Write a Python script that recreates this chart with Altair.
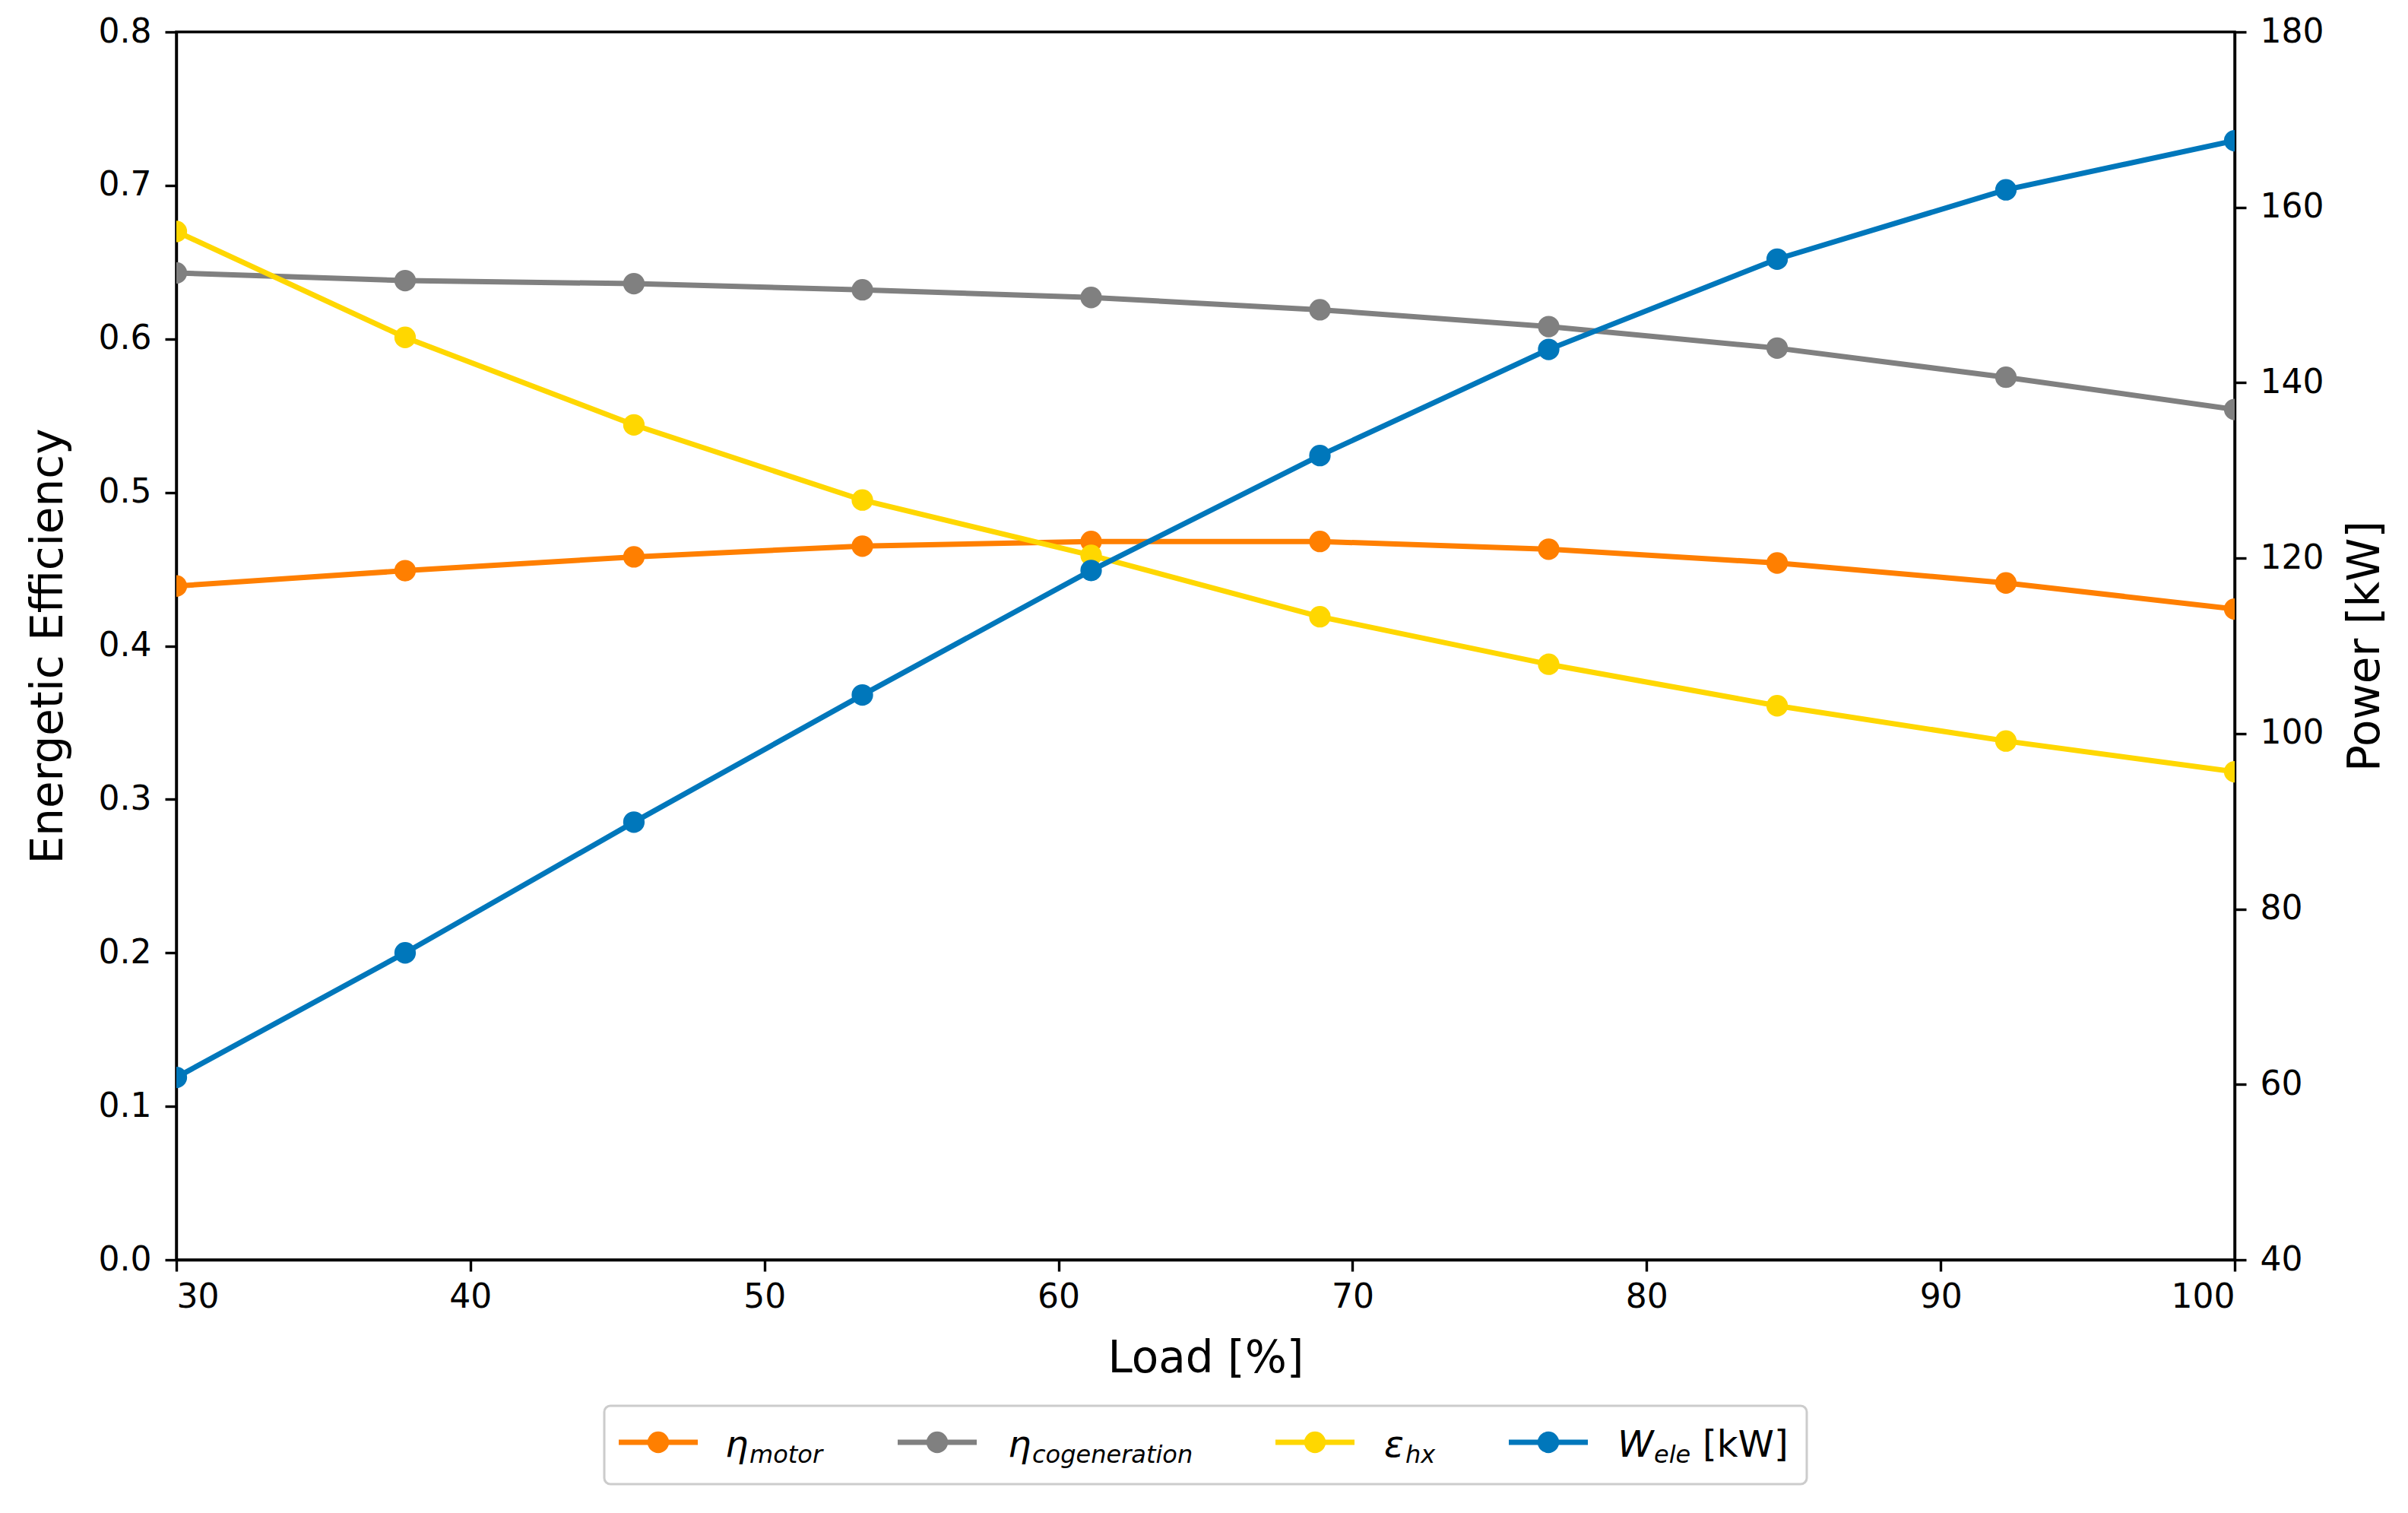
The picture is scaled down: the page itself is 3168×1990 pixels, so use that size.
import altair as alt
import pandas as pd

# ---------------- data ----------------
load = [30, 37.78, 45.56, 53.33, 61.11, 68.89, 76.67, 84.44, 92.22, 100]
eta_motor = [0.439, 0.449, 0.458, 0.465, 0.468, 0.468, 0.463, 0.454, 0.441, 0.424]
eta_cogeneration = [0.643, 0.638, 0.636, 0.632, 0.627, 0.619, 0.608, 0.594, 0.575, 0.554]
eps_hx = [0.670, 0.601, 0.544, 0.495, 0.459, 0.419, 0.388, 0.361, 0.338, 0.318]
w_ele = [60.8, 75.0, 89.9, 104.4, 118.6, 131.7, 143.8, 154.1, 162.0, 167.6]

series_names = ["eta_motor", "eta_cogeneration", "eps_hx"]
series_colors = ["#FF7F00", "#808080", "#FFD700"]
w_color = "#0077BB"

x_ticks = [30, 40, 50, 60, 70, 80, 90, 100]
y_left_ticks = [0.0, 0.1, 0.2, 0.3, 0.4, 0.5, 0.6, 0.7, 0.8]
y_right_ticks = [40, 60, 80, 100, 120, 140, 160, 180]

legend_syms = ["η", "η", "ε", "W"]
legend_subs = ["motor", "cogeneration", "hx", "ele"]
legend_units = ["", "", "", "[kW]"]
legend_colors = series_colors + [w_color]

# ---------------- tables ----------------
rows = []
for name, vals in zip(series_names, [eta_motor, eta_cogeneration, eps_hx]):
    for l, v in zip(load, vals):
        rows.append({"series": name, "load": l, "value": v})
eff_df = pd.DataFrame(rows)
w_df = pd.DataFrame({"load": load, "power": w_ele})

# ---------------- style ----------------
FONT = "DejaVu Sans"
LW = 7
MS = 800
PLOT_W, PLOT_H = 2708, 1615

x_enc = alt.X(
    "load:Q",
    scale=alt.Scale(domain=[30, 100], nice=False, zero=False),
    axis=alt.Axis(values=x_ticks, format="d", title="Load [%]",
                  labelPadding=12, titlePadding=30),
)
yl_enc = alt.Y(
    "value:Q",
    scale=alt.Scale(domain=[0, 0.8], nice=False),
    axis=alt.Axis(values=y_left_ticks, format=".1f", title="Energetic Efficiency",
                  orient="left", labelPadding=18, titlePadding=36),
)
yr_enc = alt.Y(
    "power:Q",
    scale=alt.Scale(domain=[40, 180], nice=False, zero=False),
    axis=alt.Axis(values=y_right_ticks, format="d", title="Power [kW]",
                  orient="right", labelPadding=18, titlePadding=73,
                  titleAngle=270, titleBaseline="alphabetic"),
)


def series_layer(name, color):
    base = alt.Chart(eff_df).transform_filter(alt.datum.series == name)
    line = base.mark_line(color=color, strokeWidth=LW, clip=True).encode(x=x_enc, y=yl_enc)
    pts = base.mark_circle(color=color, size=MS, opacity=1, clip=True).encode(x=x_enc, y=yl_enc)
    return alt.layer(line, pts)


left = alt.layer(*[series_layer(n, c) for n, c in zip(series_names, series_colors)])

w_base = alt.Chart(w_df)
right = alt.layer(
    w_base.mark_line(color=w_color, strokeWidth=LW, clip=True).encode(x=x_enc, y=yr_enc),
    w_base.mark_circle(color=w_color, size=MS, opacity=1, clip=True).encode(x=x_enc, y=yr_enc),
)

# ---------------- custom legend below the plot (math-style labels) ----------------
BOX_X, BOX_Y, BOX_W, BOX_H = 563, 1807, 1582, 103
handle_cx = [71, 438, 935, 1242]
label_x = [159, 531, 1026, 1333]
sym_w = [32, 32, 28, 48]
sub_w = [96, 229, 39, 48]
unit_gap = 16
MAIN_FS, SUB_FS = 48, 32
HANDLE_Y = BOX_Y + 48
MAIN_BASE = BOX_Y + 67
SUB_BASE = BOX_Y + 75
dummy = alt.Data(values=[{"k": 0}])

leg_layers = [
    alt.Chart(dummy).mark_rect(
        fill="white", stroke="#cccccc", strokeWidth=3, cornerRadius=8
    ).encode(
        x=alt.value(BOX_X), x2=alt.value(BOX_X + BOX_W),
        y=alt.value(BOX_Y), y2=alt.value(BOX_Y + BOX_H),
    )
]
for i in range(4):
    c = legend_colors[i]
    hx = BOX_X + handle_cx[i]
    lx = BOX_X + label_x[i]
    leg_layers.append(
        alt.Chart(dummy).mark_rule(color=c, strokeWidth=LW).encode(
            x=alt.value(hx - 52), x2=alt.value(hx + 52), y=alt.value(HANDLE_Y)
        )
    )
    leg_layers.append(
        alt.Chart(dummy).mark_circle(color=c, size=MS, opacity=1).encode(
            x=alt.value(hx), y=alt.value(HANDLE_Y)
        )
    )
    leg_layers.append(
        alt.Chart(dummy).mark_text(
            font=FONT, fontSize=MAIN_FS, fontStyle="italic", align="left",
            baseline="alphabetic", color="black"
        ).encode(x=alt.value(lx), y=alt.value(MAIN_BASE), text=alt.value(legend_syms[i]))
    )
    leg_layers.append(
        alt.Chart(dummy).mark_text(
            font=FONT, fontSize=SUB_FS, fontStyle="italic", align="left",
            baseline="alphabetic", color="black"
        ).encode(x=alt.value(lx + sym_w[i]), y=alt.value(SUB_BASE),
                 text=alt.value(legend_subs[i]))
    )
    if legend_units[i]:
        leg_layers.append(
            alt.Chart(dummy).mark_text(
                font=FONT, fontSize=MAIN_FS, align="left",
                baseline="alphabetic", color="black"
            ).encode(x=alt.value(lx + sym_w[i] + sub_w[i] + unit_gap), y=alt.value(MAIN_BASE),
                     text=alt.value(legend_units[i]))
        )

chart = (
    alt.layer(left, right, *leg_layers)
    .resolve_scale(y="independent")
    .properties(
        width=PLOT_W, height=PLOT_H,
        padding={"left": 27, "top": 12, "right": 0, "bottom": 0},
        background="white",
    )
    .configure_view(stroke="black", strokeWidth=3.4)
    .configure_axis(
        labelFont=FONT, labelFontSize=44, labelColor="black",
        titleFont=FONT, titleFontSize=58, titleFontWeight="normal", titleColor="black",
        tickColor="black", tickWidth=3.4, tickSize=15,
        domainColor="black", domainWidth=3.4, grid=False,
    )
)

chart.save("out.html", embed_options={"renderer": "svg", "actions": False})
